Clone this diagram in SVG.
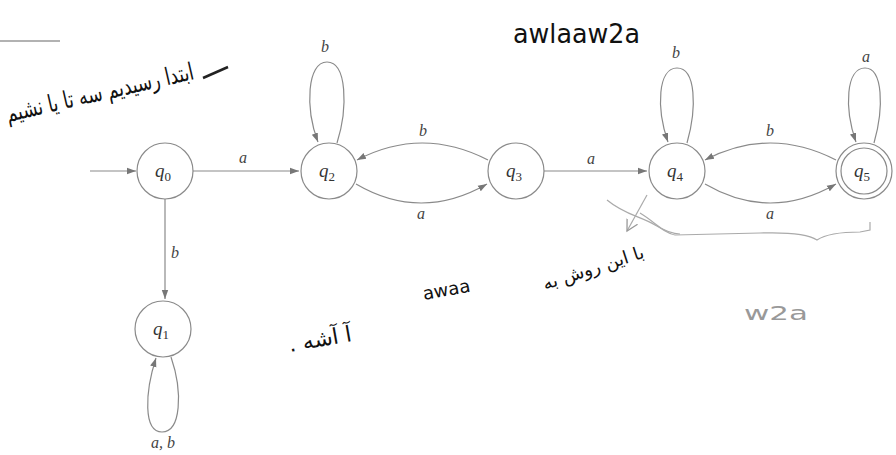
<svg xmlns="http://www.w3.org/2000/svg" width="896" height="455" viewBox="0 0 896 455">
<defs>
<marker id="ah" markerUnits="userSpaceOnUse" markerWidth="10" markerHeight="8" refX="9" refY="4" orient="auto">
<path d="M0,0.8 L9,4 L0,7.2 Z" fill="#777"/>
</marker>
<marker id="hand" markerUnits="userSpaceOnUse" markerWidth="16" markerHeight="16" refX="11" refY="8" orient="auto">
<path d="M0,2 L11,8 L0,14" fill="none" stroke="#999" stroke-width="1.3"/>
</marker>
</defs>
<style>
.st{fill:#fff;stroke:#8a8a8a;stroke-width:1.2}
.q{font-family:"Liberation Serif",serif;font-style:italic;font-size:19px;fill:#333;text-anchor:middle}
.sub{font-style:normal;font-size:13px}
.e{fill:none;stroke:#8a8a8a;stroke-width:1.2;marker-end:url(#ah)}
.lb{font-family:"Liberation Serif",serif;font-style:italic;font-size:16px;fill:#444;text-anchor:middle}
.hw{font-family:"DejaVu Sans",sans-serif;fill:#111}
.hs{fill:none;stroke:#aaa;stroke-width:1.2}
</style>
<rect width="896" height="455" fill="#fff"/>

<g id="connectors">
<path class="e" d="M90,171 L136,171"/>
<path class="e" d="M193,171 L299,171"/>
<text class="lb" x="243" y="163">a</text>
<path class="e" d="M165,199 L165,299"/>
<text class="lb" x="175" y="258">b</text>
<path class="e" d="M337,143 C348,108 347,62 327,62 C307,62 305,108 318,142"/>
<text class="lb" x="325" y="52">b</text>
<path class="e" d="M488,160 Q422,126 357,160"/>
<text class="lb" x="423" y="136">b</text>
<path class="e" d="M356,184 Q421,222 487,184"/>
<text class="lb" x="421" y="219">a</text>
<path class="e" d="M544,171 L647,171"/>
<text class="lb" x="591" y="164">a</text>
<path class="e" d="M687,143 C697,108 696,68 677,68 C658,68 656,108 668,142"/>
<text class="lb" x="676" y="58">b</text>
<path class="e" d="M836,160 Q770,126 705,160"/>
<text class="lb" x="770" y="136">b</text>
<path class="e" d="M705,184 Q770,222 836,184"/>
<text class="lb" x="770" y="219">a</text>
<path class="e" d="M874,143 C884,108 883,68 865,68 C846,68 844,108 856,142"/>
<text class="lb" x="866" y="62">a</text>
<path class="e" d="M171,357 C183,392 181,432 162,432 C143,432 145,392 156,358"/>
<text class="lb" x="163" y="448">a, b</text>
</g>

<g id="q0"><circle class="st" cx="165" cy="171" r="28"/><text class="q" x="163" y="177">q<tspan class="sub" dy="4">0</tspan></text></g>
<g id="q1"><circle class="st" cx="163" cy="329" r="28"/><text class="q" x="161" y="335">q<tspan class="sub" dy="4">1</tspan></text></g>
<g id="q2"><circle class="st" cx="329" cy="171" r="28"/><text class="q" x="327" y="177">q<tspan class="sub" dy="4">2</tspan></text></g>
<g id="q3"><circle class="st" cx="516" cy="171" r="28"/><text class="q" x="514" y="177">q<tspan class="sub" dy="4">3</tspan></text></g>
<g id="q4"><circle class="st" cx="677" cy="171" r="28"/><text class="q" x="675" y="177">q<tspan class="sub" dy="4">4</tspan></text></g>
<g id="q5"><circle class="st" cx="864" cy="171" r="28"/><circle class="st" cx="864" cy="171" r="23"/><text class="q" x="862" y="177">q<tspan class="sub" dy="4">5</tspan></text></g>

<g id="handwriting">
<line x1="0" y1="41" x2="60" y2="41" stroke="#999" stroke-width="1.5"/>
<line x1="203" y1="78" x2="228" y2="67" stroke="#222" stroke-width="2.5"/>
<text class="hw" x="513" y="43" font-size="26" textLength="127" lengthAdjust="spacingAndGlyphs">awlaaw2a</text>
<text class="hw" x="8" y="122" font-size="24" textLength="192" lengthAdjust="spacingAndGlyphs" transform="rotate(-13 8 122)">ابتدا رسیدیم سه تا یا نشیم</text>
<text class="hw" x="545" y="290" font-size="18" transform="rotate(-18 545 290)">با این روش به</text>
<text class="hw" x="424" y="300" font-size="18" transform="rotate(-10 424 300)">awaa</text>
<text class="hw" x="290" y="352" font-size="22" transform="rotate(-10 290 352)">. آ آشه</text>
<text class="hw" x="744" y="320" font-size="20" textLength="64" lengthAdjust="spacingAndGlyphs" style="fill:#999">w2a</text>
<path class="hs" d="M647,195 L627,231" marker-end="url(#hand)"/>
<path class="hs" d="M607,200 C625,215 640,216 655,225 C665,231 672,234 680,234"/>
<path class="hs" d="M640,213 C655,222 665,234 675,235 L760,233 C790,232 808,234 817,240 C826,234 845,232 860,232 L870,230 L870,222"/>
</g>
</svg>
